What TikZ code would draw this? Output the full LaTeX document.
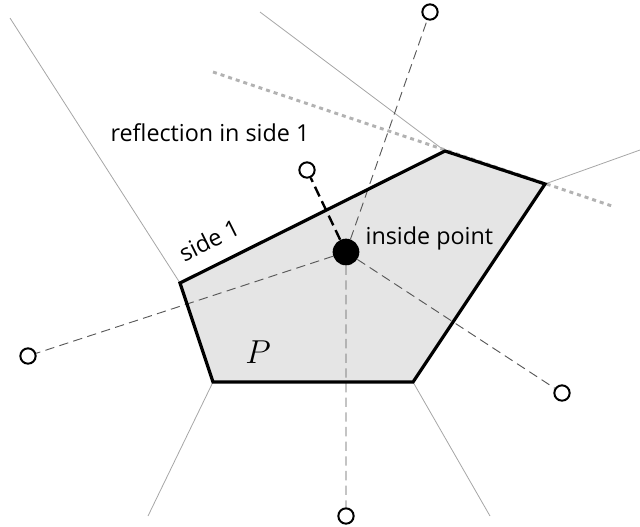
\documentclass[tikz,border=0pt]{standalone}
\usepackage{fontspec}
\setmainfont{Open Sans}
\begin{document}
\begin{tikzpicture}[x=0.75pt,y=-0.75pt,
  thin gray/.style={draw=gray!70,line width=0.6pt},
  refl/.style={circle,draw=black,line width=1.5pt,fill=white,minimum size=11.5pt,inner sep=0pt},
  dash line/.style={draw=black!65,dash pattern=on 7pt off 4pt,line width=0.7pt},
  lbl/.style={font=\fontsize{17.5}{20}\selectfont,inner sep=1pt}]
\useasboundingbox (0,0) rectangle (640,526);
\coordinate (A) at (180,283);
\coordinate (B) at (445,151);
\coordinate (C) at (545,184);
\coordinate (D) at (413,382);
\coordinate (E) at (213,382);
\coordinate (d1) at (213,72);
\coordinate (d2) at (612,206);
\coordinate (g1) at (10,18);
\coordinate (g2) at (260,12);
\coordinate (g3) at (640,150);
\coordinate (g4) at (148,516);
\coordinate (g5) at (490,516);
\draw[thin gray] (A)--(g1) (B)--(g2) (C)--(g3) (E)--(g4) (D)--(g5);
\draw[gray!60,line width=2.2pt,dash pattern=on 3pt off 3pt] (d1)--(d2);
\fill[gray!20] (A)--(B)--(C)--(D)--(E)--cycle;
\node[circle,fill=black,minimum size=20pt,inner sep=0pt] (I) at (346,252) {};
\node[refl] (rt) at (430,12) {};
\node[refl] (rs) at (307,170) {};
\node[refl] (rl) at (28,356) {};
\node[refl] (rr) at (562,393) {};
\node[refl] (rb) at (346,516) {};
\draw[dash line] (I)--(rt) (I)--(rl) (I)--(rr) (I)--(rb);
\draw[black,line width=1.8pt,dash pattern=on 8pt off 4pt] (I)--(rs);
\draw[line width=2.4pt,line join=miter] (A)--(B)--(C)--(D)--(E)--cycle;
\node[lbl] (t1) at (210,133) {reflection in side 1};
\node[lbl,rotate=26.5] (t2) at (209,240) {side 1};
\node[lbl,anchor=west] (t3) at (364,238) {inside point};
\node[font=\fontsize{24}{26}\selectfont\rmfamily\itshape] (P) at (258,352) {$P$};
\end{tikzpicture}
\end{document}
